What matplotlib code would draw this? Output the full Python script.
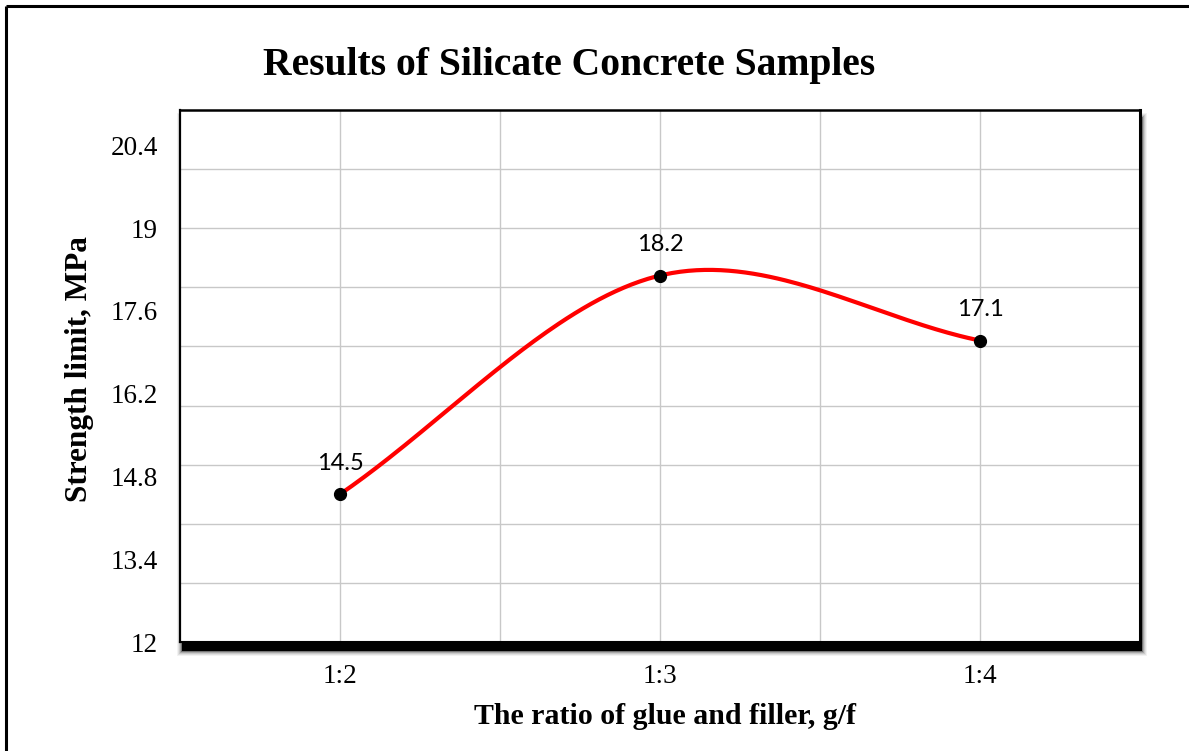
"""
Results of Silicate Concrete Samples - strength limit vs glue/filler ratio
"""
import matplotlib
matplotlib.use("Agg")
import matplotlib.pyplot as plt
import matplotlib.patches as mpatches
from matplotlib.lines import Line2D
import numpy as np

# ── Data ───────────────────────────────────────────────
ratios    = ["1:2", "1:3", "1:4"]
strength  = [14.5, 18.2, 17.1]
y_ticks   = [12, 13.4, 14.8, 16.2, 17.6, 19, 20.4]
y_grid    = [13, 14, 15, 16, 17, 18, 19, 20]

# ── Style ──────────────────────────────────────────────
plt.rcParams.update({
    "font.family": ["Liberation Serif", "DejaVu Serif"],
    "figure.facecolor": "white",
    "axes.facecolor": "white",
})
COL_LINE = "#ff0000"
COL_GRID = "#c8c8c8"

W, H = 1189, 751
fig = plt.figure(figsize=(W / 100, H / 100), dpi=100)

# axes box in pixels: left 180, right 1140, top 110, bottom 642
L, R, T, B = 180, 1140, 110, 642
ax = fig.add_axes([L / W, 1 - B / H, (R - L) / W, (B - T) / H], zorder=2)


# ── smooth curve (Catmull-Rom / Hermite like Excel smoothing) ──
def smooth(xs, ys, n=80):
    xs = np.asarray(xs, float)
    ys = np.asarray(ys, float)
    k = len(xs)
    mx = np.zeros(k)
    my = np.zeros(k)
    for i in range(k):
        a = max(i - 1, 0)
        b = min(i + 1, k - 1)
        f = 0.5 if 0 < i < k - 1 else 1.0
        mx[i] = (xs[b] - xs[a]) * f
        my[i] = (ys[b] - ys[a]) * f
    ox, oy = [], []
    for i in range(k - 1):
        t = np.linspace(0, 1, n)
        h00 = 2 * t**3 - 3 * t**2 + 1
        h10 = t**3 - 2 * t**2 + t
        h01 = -2 * t**3 + 3 * t**2
        h11 = t**3 - t**2
        ox.append(h00 * xs[i] + h10 * mx[i] + h01 * xs[i + 1] + h11 * mx[i + 1])
        oy.append(h00 * ys[i] + h10 * my[i] + h01 * ys[i + 1] + h11 * my[i + 1])
    return np.concatenate(ox), np.concatenate(oy)


x = np.arange(1, len(ratios) + 1)
sx, sy = smooth(x, strength)
ax.plot(sx, sy, color=COL_LINE, linewidth=3.0, zorder=3, solid_capstyle="round")
ax.plot(x, strength, "o", color="black", markersize=8.5, zorder=4)

for xi, v in zip(x, strength):
    ax.annotate(f"{v}", (xi, v), xytext=(0, 22), textcoords="offset points",
                ha="center", va="center", fontsize=17, family="Lato",
                color="black", zorder=5)

# ── Axes ───────────────────────────────────────────────
ax.set_xlim(0.5, 3.5)
ax.set_ylim(12, 21)
ax.set_xticks(x)
ax.set_xticklabels(ratios)
ax.set_xticks([1.5, 2.5], minor=True)
ax.set_yticks(y_ticks)
ax.set_yticklabels([f"{v:g}" for v in y_ticks])
ax.set_yticks(y_grid, minor=True)
ax.yaxis.remove_overlapping_locs = False
ax.xaxis.remove_overlapping_locs = False

ax.tick_params(axis="both", which="both", length=0, labelsize=19.5)
ax.tick_params(axis="y", pad=16)
ax.tick_params(axis="x", pad=16)

ax.grid(True, which="minor", color=COL_GRID, linewidth=1.0)
ax.xaxis.grid(True, which="major", color=COL_GRID, linewidth=1.0)
ax.yaxis.grid(False, which="major")
ax.set_axisbelow(True)

for side, lw in [("left", 1.6), ("top", 1.8), ("right", 2.2), ("bottom", 1.5)]:
    ax.spines[side].set_color("black")
    ax.spines[side].set_linewidth(lw)

# ── drop shadow under the plot box ─────────────────────
for grow, alpha in [(5, 0.05), (4, 0.07), (3, 0.1), (2, 0.16), (1, 0.3), (0, 1.0)]:
    sx0, sx1 = L + 2 - grow, R + 2 + grow
    sy0, sy1 = T + 8 - grow, B + 9 + grow
    fig.patches.append(mpatches.Rectangle(
        (sx0 / W, 1 - sy1 / H), (sx1 - sx0) / W, (sy1 - sy0) / H,
        transform=fig.transFigure, facecolor="black", edgecolor="none",
        alpha=alpha, zorder=1))

# ── outer frame (left and top edges) ───────────────────
fig.add_artist(Line2D([6 / W, 6 / W], [0, 1 - 6 / H], transform=fig.transFigure,
                      color="black", linewidth=2.2, solid_capstyle="butt"))
fig.add_artist(Line2D([6 / W, 1], [1 - 6 / H, 1 - 6 / H], transform=fig.transFigure,
                      color="black", linewidth=2.2, solid_capstyle="butt"))

# ── Titles ─────────────────────────────────────────────
fig.text(569 / W, 1 - 66 / H, "Results of Silicate Concrete Samples",
         ha="center", va="center", fontsize=28.5, fontweight="bold")
fig.text(665 / W, 1 - 716 / H, "The ratio of glue and filler, g/f",
         ha="center", va="center", fontsize=21.5, fontweight="bold")
fig.text(80 / W, 1 - 369 / H, "Strength limit, MPa", rotation=90,
         ha="center", va="center", fontsize=22.5, fontweight="bold")

fig.savefig("out.png", dpi=100)
plt.close(fig)
